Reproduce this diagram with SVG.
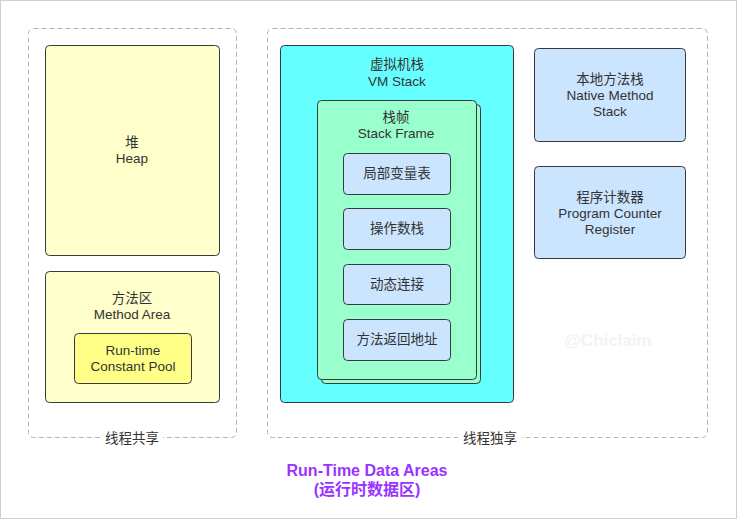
<svg xmlns="http://www.w3.org/2000/svg" width="737" height="519" viewBox="0 0 737 519">
<style>
text{font-family:"Liberation Sans","Noto Sans CJK SC",sans-serif;font-size:13.5px;fill:#333;text-anchor:middle}
.grp{fill:none;stroke:#b3b3b3;stroke-dasharray:5 3;stroke-width:1}
.box{stroke:#36393d;stroke-width:1}
.lbl{fill:#fff;stroke:none}
.title{font-size:16px;font-weight:bold;fill:#9933ff}
</style>
<rect x="0.5" y="0.5" width="736" height="518" fill="#fff" stroke="#d0d0d0"/>
<g id="shared">
<rect class="grp" x="28.5" y="28.5" width="208" height="409" rx="5"/>
<rect class="lbl" x="101" y="430" width="62" height="16"/>
<text x="132" y="443">线程共享</text>
</g>
<g id="private">
<rect class="grp" x="267.5" y="28.5" width="440" height="409" rx="5"/>
<rect class="lbl" x="458" y="430" width="64" height="16"/>
<text x="490" y="443">线程独享</text>
</g>
<g id="heap">
<rect class="box" x="45.5" y="45.5" width="174" height="210" rx="4" fill="#ffffcc"/>
<text x="132" y="147">堆</text>
<text x="132" y="163">Heap</text>
</g>
<g id="method-area">
<rect class="box" x="45.5" y="271.5" width="174" height="131" rx="4" fill="#ffffcc"/>
<text x="132" y="303">方法区</text>
<text x="132" y="319">Method Area</text>
</g>
<g id="constant-pool">
<rect class="box" x="74.5" y="333.5" width="117" height="50" rx="4" fill="#ffff88"/>
<text x="133" y="355">Run-time</text>
<text x="133" y="371">Constant Pool</text>
</g>
<g id="vm-stack">
<rect class="box" x="280.5" y="45.5" width="233" height="357" rx="4" fill="#66ffff"/>
<text x="397" y="69">虚拟机栈</text>
<text x="397" y="86">VM Stack</text>
</g>
<g id="stack-frame">
<rect class="box" x="321.5" y="104.5" width="159" height="279" rx="4" fill="#99ffcc"/>
<rect class="box" x="317.5" y="100.5" width="159" height="279" rx="4" fill="#99ffcc"/>
<text x="396" y="122">栈帧</text>
<text x="396" y="138">Stack Frame</text>
</g>
<g id="local-vars">
<rect class="box" x="343.5" y="153.5" width="107" height="41" rx="4" fill="#cce5ff"/>
<text x="397" y="178">局部变量表</text>
</g>
<g id="operand-stack">
<rect class="box" x="343.5" y="208.5" width="107" height="41" rx="4" fill="#cce5ff"/>
<text x="397" y="233">操作数栈</text>
</g>
<g id="dynamic-link">
<rect class="box" x="343.5" y="264.5" width="107" height="40" rx="4" fill="#cce5ff"/>
<text x="397" y="289">动态连接</text>
</g>
<g id="return-address">
<rect class="box" x="343.5" y="319.5" width="107" height="41" rx="4" fill="#cce5ff"/>
<text x="397" y="344">方法返回地址</text>
</g>
<g id="native-stack">
<rect class="box" x="534.5" y="48.5" width="151" height="93" rx="4" fill="#cce5ff"/>
<text x="610" y="84">本地方法栈</text>
<text x="610" y="100">Native Method</text>
<text x="610" y="116">Stack</text>
</g>
<g id="pc-register">
<rect class="box" x="534.5" y="166.5" width="151" height="92" rx="4" fill="#cce5ff"/>
<text x="610" y="202">程序计数器</text>
<text x="610" y="218">Program Counter</text>
<text x="610" y="234">Register</text>
</g>
<g id="connectors"></g>
<text x="608" y="346" style="font-size:17px;font-weight:bold;fill:#f3f3f3">@Chiclaim</text>
<text class="title" x="367" y="476">Run-Time Data Areas</text>
<text class="title" x="367" y="495">(运行时数据区)</text>
</svg>
